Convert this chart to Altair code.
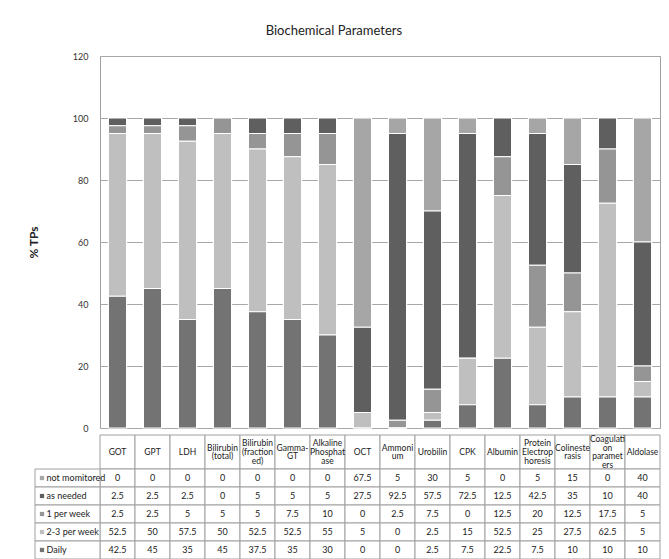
import altair as alt
import pandas as pd

categories = ["GOT", "GPT", "LDH", "Bilirubin (total)", "Bilirubin (fractioned)", "Gamma-GT",
              "Alkaline Phosphatase", "OCT", "Ammonium", "Urobilin", "CPK", "Albumin",
              "Protein Electrophoresis", "Colinesterasis", "Coagulation parameters", "Aldolase"]
header_labels = ["GOT", "GPT", "LDH", "Bilirubin\n(total)", "Bilirubin\n(fraction\ned)", "Gamma-\nGT",
                 "Alkaline\nPhosphat\nase", "OCT", "Ammoni\num", "Urobilin", "CPK", "Albumin",
                 "Protein\nElectrop\nhoresis", "Colineste\nrasis", "Coagulati\non\nparamet\ners", "Aldolase"]
series = ["not momitored", "as needed", "1 per week", "2-3 per week", "Daily"]
not_monitored = [0, 0, 0, 0, 0, 0, 0, 67.5, 5, 30, 5, 0, 5, 15, 0, 40]
as_needed = [2.5, 2.5, 2.5, 0, 5, 5, 5, 27.5, 92.5, 57.5, 72.5, 12.5, 42.5, 35, 10, 40]
one_per_week = [2.5, 2.5, 5, 5, 5, 7.5, 10, 0, 2.5, 7.5, 0, 12.5, 20, 12.5, 17.5, 5]
two_three_per_week = [52.5, 50, 57.5, 50, 52.5, 52.5, 55, 5, 0, 2.5, 15, 52.5, 25, 27.5, 62.5, 5]
daily = [42.5, 45, 35, 45, 37.5, 35, 30, 0, 0, 2.5, 7.5, 22.5, 7.5, 10, 10, 10]
colors = ["#a6a6a6", "#5f5f5f", "#959595", "#bfbfbf", "#737373"]
y_ticks = [0, 20, 40, 60, 80, 100, 120]

values = [not_monitored, as_needed, one_per_week, two_three_per_week, daily]
FONT = "Lato"
GRID = "#a8a8a8"
BORDER = "#a0a0a0"

def fmt(v):
    return str(int(v)) if float(v).is_integer() else str(v)

# ---------- bar data ----------
bar_rows = []
for r, s in enumerate(series):
    for i, c in enumerate(categories):
        bar_rows.append({"cat": c, "series": s, "value": values[r][i], "ord": 4 - r})
bars_df = pd.DataFrame(bar_rows)

color_scale = alt.Scale(domain=series, range=colors)

W = 560
PH = 372
bars = alt.Chart(bars_df).mark_bar(stroke="white", strokeWidth=1.2).encode(
    x=alt.X("cat:N", sort=categories,
            scale=alt.Scale(paddingInner=0.48, paddingOuter=0.24), axis=None),
    y=alt.Y("value:Q", stack="zero",
            scale=alt.Scale(domain=[0, 120], nice=False),
            axis=alt.Axis(values=y_ticks, title="% TPs", titleFont=FONT, titleFontSize=12,
                          titleFontWeight="bold", titleColor="#222", titlePadding=32,
                          labelFont=FONT, labelFontSize=9, labelColor="#333", labelPadding=12,
                          ticks=False, domain=False, grid=True, gridColor=GRID, gridWidth=1)),
    color=alt.Color("series:N", scale=color_scale, legend=None),
    order=alt.Order("ord:Q"),
).properties(width=W, height=PH, view=alt.ViewConfig(stroke=BORDER, strokeWidth=1))

# ---------- table data ----------
NC = len(categories)
HH = 34      # header height
RH = 18      # row height
LH = 8.6     # header line height
TH = HH + RH * len(series)
L = 65 / 35.0  # legend column width in column units

header_df = pd.DataFrame([
    {"x": i, "x2": i + 1, "y": 0, "y2": HH, "xc": i + 0.5,
     "yc": HH / 2 - (header_labels[i].count("\n")) * LH / 2, "text": header_labels[i]}
    for i in range(NC)
])
cell_df = pd.DataFrame([
    {"x": i, "x2": i + 1, "y": HH + r * RH, "y2": HH + (r + 1) * RH,
     "xc": i + 0.5, "yc": HH + (r + 0.5) * RH, "text": fmt(values[r][i])}
    for r in range(len(series)) for i in range(NC)
])
legend_df = pd.DataFrame([
    {"x": -L, "x2": 0, "y": HH + r * RH, "y2": HH + (r + 1) * RH,
     "xs": -L + 0.2, "xt": -L + 0.33, "yc": HH + (r + 0.5) * RH, "series": s}
    for r, s in enumerate(series)
])

xs = alt.Scale(domain=[0, NC], nice=False, zero=False)
ys = alt.Scale(domain=[0, TH], nice=False, zero=False, reverse=True)

def rects(df):
    return alt.Chart(df).mark_rect(fill="white", stroke=BORDER, strokeWidth=1).encode(
        x=alt.X("x:Q", scale=xs, axis=None), x2="x2:Q",
        y=alt.Y("y:Q", scale=ys, axis=None), y2="y2:Q")

header_rect = rects(header_df)
cell_rect = rects(cell_df)
legend_rect = rects(legend_df)

header_text = alt.Chart(header_df).mark_text(font=FONT, fontSize=8.5, color="#222", lineBreak="\n",
                                             lineHeight=LH, baseline="middle", align="center").encode(
    x=alt.X("xc:Q", scale=xs, axis=None), y=alt.Y("yc:Q", scale=ys, axis=None), text="text:N")
cell_text = alt.Chart(cell_df).mark_text(font=FONT, fontSize=9, color="#222",
                                         baseline="middle", align="center").encode(
    x=alt.X("xc:Q", scale=xs, axis=None), y=alt.Y("yc:Q", scale=ys, axis=None), text="text:N")
legend_sq = alt.Chart(legend_df).mark_square(size=18, opacity=1).encode(
    x=alt.X("xs:Q", scale=xs, axis=None), y=alt.Y("yc:Q", scale=ys, axis=None),
    color=alt.Color("series:N", scale=color_scale, legend=None))
legend_text = alt.Chart(legend_df).mark_text(font=FONT, fontSize=9, color="#222",
                                             baseline="middle", align="left").encode(
    x=alt.X("xt:Q", scale=xs, axis=None), y=alt.Y("yc:Q", scale=ys, axis=None), text="series:N")

table = alt.layer(header_rect, cell_rect, legend_rect, header_text, cell_text, legend_sq, legend_text
                  ).properties(width=W, height=TH, view=alt.ViewConfig(stroke="transparent"))

chart = alt.vconcat(bars, table, spacing=0).properties(
    title=alt.TitleParams("Biochemical Parameters", font=FONT, fontSize=13, fontWeight="normal",
                          color="#222", anchor="middle", offset=14, dx=-10),
    padding={"left": 18, "top": 16, "right": 0, "bottom": 0},
).configure(background="white")

chart.save("out.html", embed_options={"renderer": "svg", "actions": False})
